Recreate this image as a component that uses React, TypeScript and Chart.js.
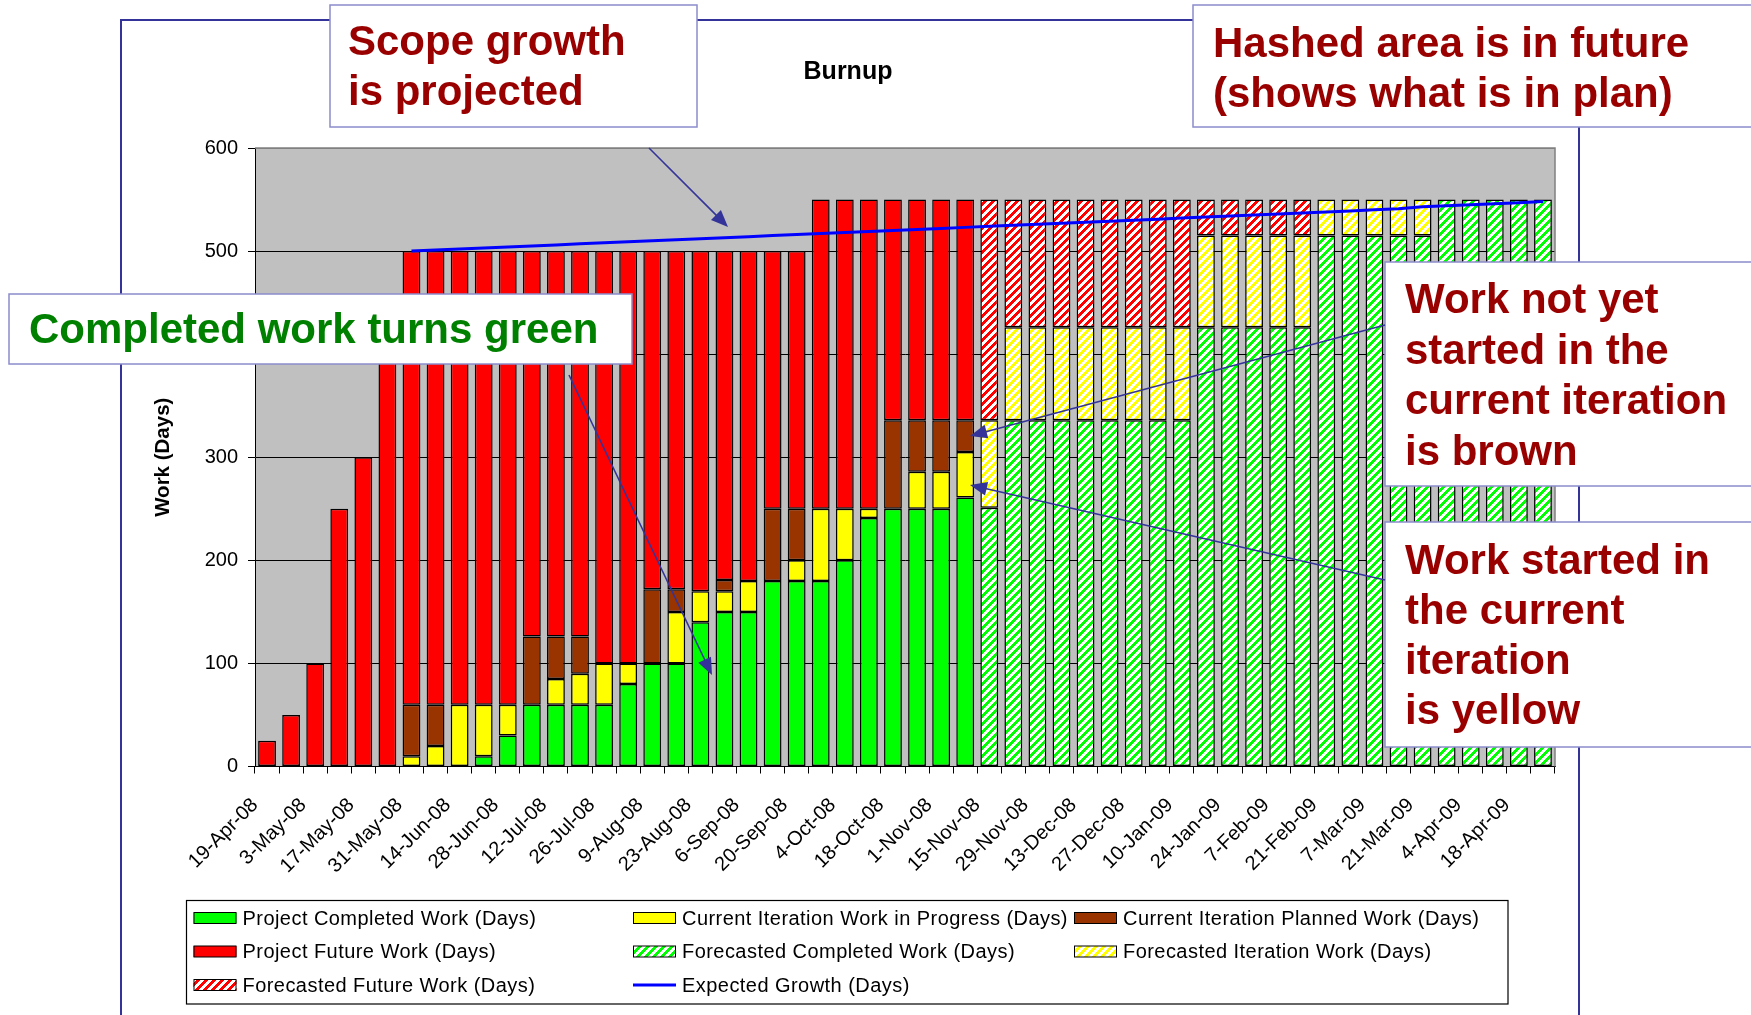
import React, { useEffect, useRef } from 'react';
import { Chart, registerables } from 'chart.js';

Chart.register(...registerables);

const n = null;

const categories = [
  '19-Apr-08', '26-Apr-08', '3-May-08', '10-May-08', '17-May-08', '24-May-08',
  '31-May-08', '7-Jun-08', '14-Jun-08', '21-Jun-08', '28-Jun-08', '5-Jul-08',
  '12-Jul-08', '19-Jul-08', '26-Jul-08', '2-Aug-08', '9-Aug-08', '16-Aug-08',
  '23-Aug-08', '30-Aug-08', '6-Sep-08', '13-Sep-08', '20-Sep-08', '27-Sep-08',
  '4-Oct-08', '11-Oct-08', '18-Oct-08', '25-Oct-08', '1-Nov-08', '8-Nov-08',
  '15-Nov-08', '22-Nov-08', '29-Nov-08', '6-Dec-08', '13-Dec-08', '20-Dec-08',
  '27-Dec-08', '3-Jan-09', '10-Jan-09', '17-Jan-09', '24-Jan-09', '31-Jan-09',
  '7-Feb-09', '14-Feb-09', '21-Feb-09', '28-Feb-09', '7-Mar-09', '14-Mar-09',
  '21-Mar-09', '28-Mar-09', '4-Apr-09', '11-Apr-09', '18-Apr-09', '25-Apr-09',
];

// Project Completed Work (green)
const completedWork = [
  n, n, n, n, n, n, n, n, n, 10, 30, 60, 60, 60, 60, 80, 100, 100, 140, 150,
  150, 180, 180, 180, 200, 241, 250, 250, 250, 261,
  n, n, n, n, n, n, n, n, n, n, n, n, n, n, n, n, n, n, n, n, n, n, n, n,
];

// Current Iteration Work in Progress (yellow)
const inProgressWork = [
  n, n, n, n, n, n, 10, 20, 60, 50, 30, n, 25, 30, 40, 20, n, 50, 30, 20,
  30, n, 20, 70, 50, 9, n, 36, 36, 44,
  n, n, n, n, n, n, n, n, n, n, n, n, n, n, n, n, n, n, n, n, n, n, n, n,
];

// Current Iteration Planned Work (brown)
const plannedWork = [
  n, n, n, n, n, n, 50, 40, n, n, n, 66, 41, 36, n, n, 72, 22, n, 11,
  n, 70, 50, n, n, n, 86, 50, 50, 31,
  n, n, n, n, n, n, n, n, n, n, n, n, n, n, n, n, n, n, n, n, n, n, n, n,
];

// Project Future Work (red)
const futureWork = [
  25, 50, 100, 250, 300, 400, 440, 440, 440, 440, 440, 374, 374, 374, 400, 400, 328, 328, 330, 319,
  320, 250, 250, 300, 300, 300, 214, 214, 214, 214,
  n, n, n, n, n, n, n, n, n, n, n, n, n, n, n, n, n, n, n, n, n, n, n, n,
];

// Forecasted Completed Work (green hatch)
const forecastCompleted = [
  n, n, n, n, n, n, n, n, n, n, n, n, n, n, n, n, n, n, n, n,
  n, n, n, n, n, n, n, n, n, n,
  251, 336, 336, 336, 336, 336, 336, 336, 336, 426, 426, 426, 426, 426,
  515, 515, 515, 515, 515, 550, 550, 550, 550, 550,
];

// Forecasted Iteration Work (yellow hatch)
const forecastIteration = [
  n, n, n, n, n, n, n, n, n, n, n, n, n, n, n, n, n, n, n, n,
  n, n, n, n, n, n, n, n, n, n,
  85, 90, 90, 90, 90, 90, 90, 90, 90, 89, 89, 89, 89, 89,
  35, 35, 35, 35, 35, n, n, n, n, n,
];

// Forecasted Future Work (red hatch)
const forecastFuture = [
  n, n, n, n, n, n, n, n, n, n, n, n, n, n, n, n, n, n, n, n,
  n, n, n, n, n, n, n, n, n, n,
  214, 124, 124, 124, 124, 124, 124, 124, 124, 35, 35, 35, 35, 35,
  n, n, n, n, n, n, n, n, n, n,
];

// Expected Growth (blue line)
const expectedGrowth = [
  n, n, n, n, n, n,
  500, 501, 502, 503, 504, 505, 506, 507, 508, 509, 510, 511, 512, 513,
  514, 515, 516, 517, 518, 519, 520, 521, 522, 523, 524, 525, 526, 527,
  528, 529, 530, 531, 532, 533, 534, 535, 536, 537, 538, 539, 540, 541,
  543, 544, 545, 546, 547, 548,
];

const yMin = 0;
const yMax = 600;
const yStep = 100;

const seriesNames = [
  'Project Completed Work (Days)',
  'Current Iteration Work in Progress (Days)',
  'Current Iteration Planned Work (Days)',
  'Project Future Work (Days)',
  'Forecasted Completed Work (Days)',
  'Forecasted Iteration Work (Days)',
  'Forecasted Future Work (Days)',
  'Expected Growth (Days)',
];

const FONT = '"Liberation Sans", Arial, Helvetica, sans-serif';
const GREEN = '#00FF00';
const YELLOW = '#FFFF00';
const BROWN = '#993300';
const RED = '#FF0000';
const BLUE = '#0000FF';
const DARKRED = '#990000';
const ARROW = '#333399';

function makeHatch(ctx: CanvasRenderingContext2D, color: string): CanvasPattern | string {
  const c = document.createElement('canvas');
  c.width = 8;
  c.height = 8;
  const g = c.getContext('2d')!;
  g.fillStyle = '#FFFFFF';
  g.fillRect(0, 0, 8, 8);
  g.fillStyle = color;
  for (let y = 0; y < 8; y++) {
    for (let x = 0; x < 8; x++) {
      if ((x + y) % 8 < 4) g.fillRect(x, y, 1, 1);
    }
  }
  return ctx.createPattern(c, 'repeat') || color;
}

function drawArrow(ctx: CanvasRenderingContext2D, x1: number, y1: number, x2: number, y2: number) {
  const ang = Math.atan2(y2 - y1, x2 - x1);
  const len = 17;
  const half = 7;
  ctx.save();
  ctx.strokeStyle = ARROW;
  ctx.fillStyle = ARROW;
  ctx.lineWidth = 1.6;
  ctx.beginPath();
  ctx.moveTo(x1, y1);
  ctx.lineTo(x2 - Math.cos(ang) * len * 0.8, y2 - Math.sin(ang) * len * 0.8);
  ctx.stroke();
  const bx = x2 - Math.cos(ang) * len;
  const by = y2 - Math.sin(ang) * len;
  ctx.beginPath();
  ctx.moveTo(x2, y2);
  ctx.lineTo(bx + Math.sin(ang) * half, by - Math.cos(ang) * half);
  ctx.lineTo(bx - Math.sin(ang) * half, by + Math.cos(ang) * half);
  ctx.closePath();
  ctx.fill();
  ctx.restore();
}

function drawNote(
  ctx: CanvasRenderingContext2D,
  x: number, y: number, w: number, h: number,
  lines: string[], tx: number, baselines: number[], color: string,
) {
  ctx.save();
  ctx.fillStyle = '#FFFFFF';
  ctx.fillRect(x, y, w, h);
  ctx.strokeStyle = '#8C8CCC';
  ctx.lineWidth = 1.5;
  ctx.strokeRect(x, y, w, h);
  ctx.font = `bold 42px ${FONT}`;
  ctx.fillStyle = color;
  ctx.textAlign = 'left';
  ctx.textBaseline = 'alphabetic';
  lines.forEach((l, i) => ctx.fillText(l, tx, baselines[i]));
  ctx.restore();
}

export default function App() {
  const ref = useRef<HTMLCanvasElement>(null);

  useEffect(() => {
    const canvas = ref.current;
    if (!canvas) return;
    const ctx0 = canvas.getContext('2d')!;
    const greenHatch = makeHatch(ctx0, GREEN);
    const yellowHatch = makeHatch(ctx0, YELLOW);
    const redHatch = makeHatch(ctx0, RED);

    const fills: (string | CanvasPattern)[] = [GREEN, YELLOW, BROWN, RED, greenHatch, yellowHatch, redHatch];

    const barCommon = {
      type: 'bar' as const,
      stack: 'work',
      borderColor: '#000000',
      borderWidth: 1.5,
      borderSkipped: false as const,
      categoryPercentage: 1,
      barPercentage: 0.74,
    };

    const decorPlugin = {
      id: 'decor',
      beforeDraw(chart: any) {
        const { ctx, chartArea } = chart;
        ctx.save();
        ctx.fillStyle = '#FFFFFF';
        ctx.fillRect(0, 0, chart.width, chart.height);
        ctx.strokeStyle = ARROW;
        ctx.lineWidth = 2;
        ctx.strokeRect(121, 20, 1458, 1100);
        ctx.fillStyle = '#C0C0C0';
        ctx.fillRect(chartArea.left, chartArea.top, chartArea.right - chartArea.left, chartArea.bottom - chartArea.top);
        ctx.restore();
      },
      afterDraw(chart: any) {
        const { ctx, chartArea } = chart;
        ctx.save();
        ctx.strokeStyle = '#808080';
        ctx.lineWidth = 1.5;
        ctx.beginPath();
        ctx.moveTo(chartArea.left, chartArea.top);
        ctx.lineTo(chartArea.right, chartArea.top);
        ctx.lineTo(chartArea.right, chartArea.bottom);
        ctx.stroke();

        // title
        ctx.fillStyle = '#000000';
        ctx.font = `bold 25px ${FONT}`;
        ctx.textAlign = 'center';
        ctx.textBaseline = 'middle';
        ctx.fillText('Burnup', 848, 72);

        // legend
        ctx.fillStyle = '#FFFFFF';
        ctx.fillRect(186.5, 900.5, 1321.5, 103.5);
        ctx.strokeStyle = '#000000';
        ctx.lineWidth = 1.2;
        ctx.strokeRect(186.5, 900.5, 1321.5, 103.5);
        const colX = [193.5, 633, 1074];
        const rowY = [918, 951.5, 985];
        ctx.font = `20px ${FONT}`;
        (ctx as any).letterSpacing = '0.45px';
        ctx.textAlign = 'left';
        ctx.textBaseline = 'middle';
        seriesNames.forEach((name, k) => {
          const cx = colX[k % 3];
          const cy = rowY[Math.floor(k / 3)];
          if (k < 7) {
            ctx.fillStyle = fills[k] as any;
            ctx.fillRect(cx, cy - 5.5, 43, 11);
            ctx.strokeStyle = '#000000';
            ctx.lineWidth = 1;
            ctx.strokeRect(cx + 0.5, cy - 5.5, 42, 11);
          } else {
            ctx.strokeStyle = BLUE;
            ctx.lineWidth = 3;
            ctx.beginPath();
            ctx.moveTo(cx, cy);
            ctx.lineTo(cx + 43, cy);
            ctx.stroke();
          }
          ctx.fillStyle = '#000000';
          ctx.fillText(name, cx + 49, cy + 1);
        });
        (ctx as any).letterSpacing = '0px';

        // annotations
        drawNote(ctx, 330, 5, 367, 122, ['Scope growth', 'is projected'], 348, [55, 105], DARKRED);
        drawNote(ctx, 1193, 5, 600, 122, ['Hashed area is in future', '(shows what is in plan)'], 1213, [57, 107], DARKRED);
        drawNote(ctx, 9, 294, 623, 70, ['Completed work turns green'], 29, [343], '#008000');
        drawNote(ctx, 1385, 262, 400, 224, ['Work not yet', 'started in the', 'current iteration', 'is brown'], 1405, [313, 364, 414, 465], DARKRED);
        drawNote(ctx, 1385, 522, 400, 225, ['Work started in', 'the current', 'iteration', 'is yellow'], 1405, [574, 624, 674, 724], DARKRED);

        drawArrow(ctx, 649, 148, 728, 227);
        drawArrow(ctx, 569, 375, 712, 675);
        drawArrow(ctx, 1385, 325, 970, 436);
        drawArrow(ctx, 1385, 580, 970, 485);
        ctx.restore();
      },
    };

    const tickFont = { family: FONT, size: 20 };

    const chart = new Chart(canvas, {
      type: 'bar',
      data: {
        labels: categories,
        datasets: [
          {
            type: 'line',
            label: seriesNames[7],
            data: expectedGrowth,
            stack: 'growth',
            order: -1,
            borderColor: BLUE,
            backgroundColor: BLUE,
            borderWidth: 3,
            pointRadius: 0,
            fill: false,
            tension: 0,
          } as any,
          { ...barCommon, label: seriesNames[0], data: completedWork, backgroundColor: fills[0] } as any,
          { ...barCommon, label: seriesNames[1], data: inProgressWork, backgroundColor: fills[1] } as any,
          { ...barCommon, label: seriesNames[2], data: plannedWork, backgroundColor: fills[2] } as any,
          { ...barCommon, label: seriesNames[3], data: futureWork, backgroundColor: fills[3] } as any,
          { ...barCommon, label: seriesNames[4], data: forecastCompleted, backgroundColor: fills[4] } as any,
          { ...barCommon, label: seriesNames[5], data: forecastIteration, backgroundColor: fills[5] } as any,
          { ...barCommon, label: seriesNames[6], data: forecastFuture, backgroundColor: fills[6] } as any,
        ],
      },
      options: {
        responsive: false,
        maintainAspectRatio: false,
        animation: false,
        devicePixelRatio: 1,
        layout: { padding: { left: 140, top: 148, right: 196, bottom: 0 } },
        plugins: {
          legend: { display: false },
          title: { display: false },
          tooltip: { enabled: false },
        },
        scales: {
          x: {
            type: 'category',
            stacked: true,
            offset: true,
            grid: {
              offset: true,
              drawOnChartArea: false,
              drawTicks: true,
              tickLength: 7,
              color: '#000000',
              lineWidth: 1,
            },
            border: { display: true, color: '#000000', width: 1 },
            ticks: {
              autoSkip: false,
              maxRotation: 45,
              minRotation: 45,
              padding: 20,
              labelOffset: -12,
              color: '#000000',
              font: tickFont,
              callback: (_v: any, i: number) => (i % 2 === 0 ? categories[i] : ''),
            },
            afterFit: (s: any) => { s.height = 248.5; },
          },
          y: {
            stacked: true,
            min: yMin,
            max: yMax,
            ticks: {
              stepSize: yStep,
              padding: 10,
              color: '#000000',
              font: tickFont,
            },
            grid: {
              color: (c: any) => (c.tick && c.tick.value === yMax ? '#808080' : '#000000'),
              tickColor: '#000000',
              tickLength: 7,
              lineWidth: 1,
            },
            border: { display: true, color: '#000000', width: 1 },
            title: {
              display: true,
              text: 'Work (Days)',
              color: '#000000',
              font: { family: FONT, size: 20.5, weight: 'bold' },
              padding: { top: 11, bottom: 0 },
            },
            afterFit: (s: any) => { s.width = 115; },
          },
        },
      },
      plugins: [decorPlugin],
    } as any);

    return () => chart.destroy();
  }, []);

  return (
    <div style={{ position: 'absolute', left: 0, top: 0, width: 1751, height: 1015, background: '#FFFFFF' }}>
      <canvas ref={ref} width={1751} height={1015} style={{ display: 'block', width: 1751, height: 1015 }} />
    </div>
  );
}
